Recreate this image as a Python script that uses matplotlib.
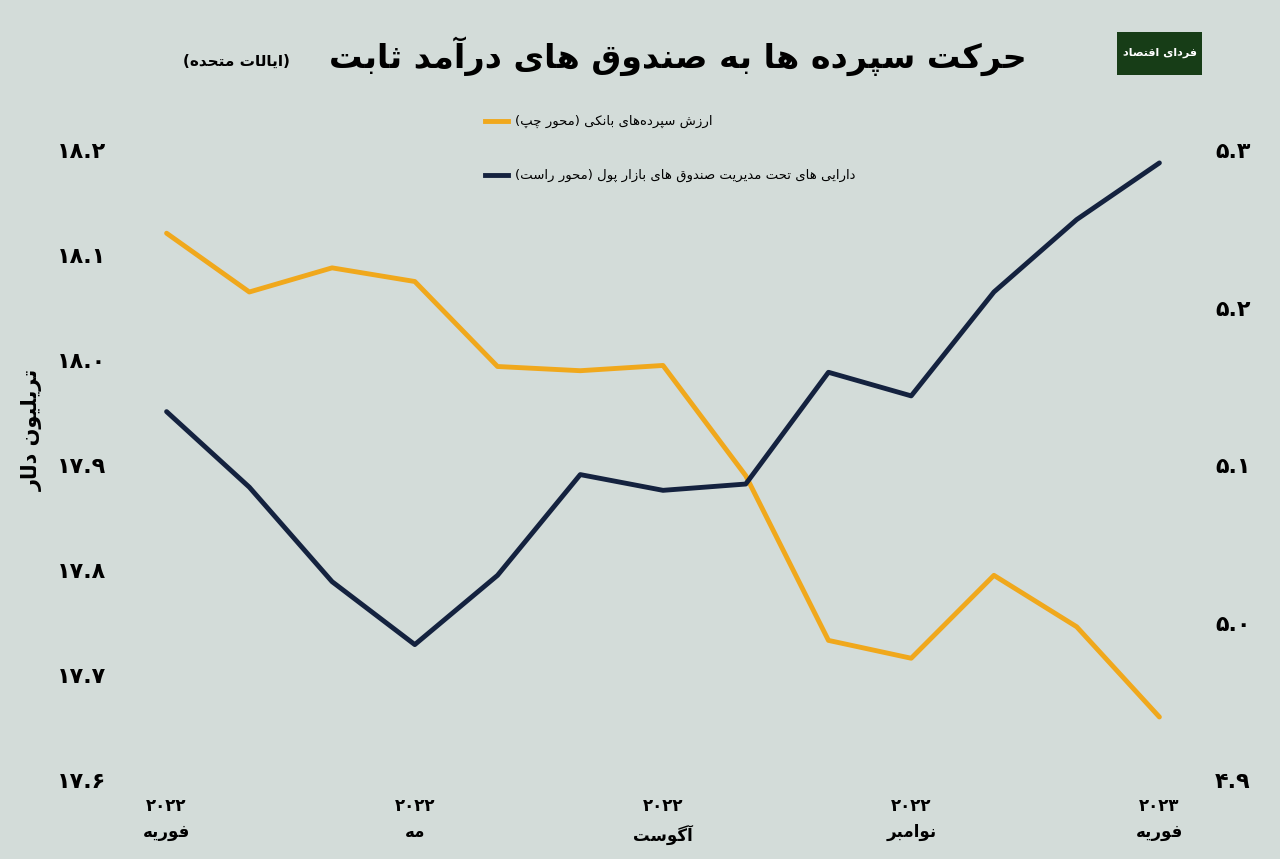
import matplotlib.pyplot as plt
from matplotlib.lines import Line2D
from matplotlib.patches import Rectangle

plt.rcParams['font.family'] = ['DejaVu Sans']

# --- data ---
months = ['فوریه', 'مارس', 'آوریل', 'مه', 'ژوئن', 'ژوئیه', 'آگوست',
          'سپتامبر', 'اکتبر', 'نوامبر', 'دسامبر', 'ژانویه', 'فوریه']
years = ['۲۰۲۲'] * 12 + ['۲۰۲۳']
deposits = [18.121, 18.065, 18.088, 18.075, 17.994, 17.990, 17.995,
            17.890, 17.733, 17.716, 17.795, 17.746, 17.660]
mmf_assets = [5.134, 5.086, 5.026, 4.986, 5.030, 5.094, 5.084,
              5.088, 5.159, 5.144, 5.210, 5.256, 5.292]
left_ticks = [17.6, 17.7, 17.8, 17.9, 18.0, 18.1, 18.2]
right_ticks = [4.9, 5.0, 5.1, 5.2, 5.3]
shown_months = [0, 3, 6, 9, 12]

title = 'حرکت سپرده ها به صندوق های درآمد ثابت'
subtitle = '(ایالات متحده)'
label_dep = 'ارزش سپرده‌های بانکی (محور چپ)'
label_mmf = 'دارایی های تحت مدیریت صندوق های بازار پول (محور راست)'
ylabel = 'تریلیون دلار'
logo = 'فردای اقتصاد'

# --- tiny Arabic/Persian shaper (isolated, final, initial, medial) ---
FORMS = {
    'ا': (0xFE8D, 0xFE8E, None, None), 'آ': (0xFE81, 0xFE82, None, None),
    'ب': (0xFE8F, 0xFE90, 0xFE91, 0xFE92), 'پ': (0xFB56, 0xFB57, 0xFB58, 0xFB59),
    'ت': (0xFE95, 0xFE96, 0xFE97, 0xFE98), 'ث': (0xFE99, 0xFE9A, 0xFE9B, 0xFE9C),
    'ج': (0xFE9D, 0xFE9E, 0xFE9F, 0xFEA0), 'چ': (0xFB7A, 0xFB7B, 0xFB7C, 0xFB7D),
    'ح': (0xFEA1, 0xFEA2, 0xFEA3, 0xFEA4), 'خ': (0xFEA5, 0xFEA6, 0xFEA7, 0xFEA8),
    'د': (0xFEA9, 0xFEAA, None, None), 'ذ': (0xFEAB, 0xFEAC, None, None),
    'ر': (0xFEAD, 0xFEAE, None, None), 'ز': (0xFEAF, 0xFEB0, None, None),
    'ژ': (0xFB8A, 0xFB8B, None, None),
    'س': (0xFEB1, 0xFEB2, 0xFEB3, 0xFEB4), 'ش': (0xFEB5, 0xFEB6, 0xFEB7, 0xFEB8),
    'ص': (0xFEB9, 0xFEBA, 0xFEBB, 0xFEBC), 'ض': (0xFEBD, 0xFEBE, 0xFEBF, 0xFEC0),
    'ط': (0xFEC1, 0xFEC2, 0xFEC3, 0xFEC4), 'ظ': (0xFEC5, 0xFEC6, 0xFEC7, 0xFEC8),
    'ع': (0xFEC9, 0xFECA, 0xFECB, 0xFECC), 'غ': (0xFECD, 0xFECE, 0xFECF, 0xFED0),
    'ف': (0xFED1, 0xFED2, 0xFED3, 0xFED4), 'ق': (0xFED5, 0xFED6, 0xFED7, 0xFED8),
    'ک': (0xFB8E, 0xFB8F, 0xFB90, 0xFB91), 'گ': (0xFB92, 0xFB93, 0xFB94, 0xFB95),
    'ل': (0xFEDD, 0xFEDE, 0xFEDF, 0xFEE0), 'م': (0xFEE1, 0xFEE2, 0xFEE3, 0xFEE4),
    'ن': (0xFEE5, 0xFEE6, 0xFEE7, 0xFEE8), 'و': (0xFEED, 0xFEEE, None, None),
    'ه': (0xFEE9, 0xFEEA, 0xFEEB, 0xFEEC), 'ی': (0xFBFC, 0xFBFD, 0xFBFE, 0xFBFF),
}


def shape(s):
    out = []
    for i, c in enumerate(s):
        if c not in FORMS:
            out.append('' if c == '\u200c' else c)
            continue
        prev = s[i - 1] if i > 0 else ''
        nxt = s[i + 1] if i + 1 < len(s) else ''
        join_prev = prev in FORMS and FORMS[prev][2] is not None
        join_next = nxt in FORMS and FORMS[c][2] is not None
        iso, fin, ini, med = FORMS[c]
        if join_prev and join_next:
            code = med
        elif join_prev:
            code = fin
        elif join_next:
            code = ini
        else:
            code = iso
        out.append(chr(code))
    # visual order: reverse, keep digit runs LTR, mirror parentheses
    runs, buf = [], ''
    for ch in ''.join(out):
        if ch.isdigit() or (buf and ch == '.'):
            buf += ch
        else:
            if buf:
                runs.append(buf)
                buf = ''
            runs.append({'(': ')', ')': '('}.get(ch, ch))
    if buf:
        runs.append(buf)
    return ''.join(reversed(runs))


def fa_num(v):
    return shape(f'{v:.1f}'.translate(str.maketrans('0123456789', '۰۱۲۳۴۵۶۷۸۹')))


bg = '#d3dcd9'
orange = '#f0a81c'
navy = '#14223f'

fig = plt.figure(figsize=(12.8, 8.59), dpi=100, facecolor=bg)
ax = fig.add_axes([0.12, 0.092, 0.80, 0.733])
ax.set_facecolor(bg)
ax2 = ax.twinx()

x = list(range(len(months)))
ax.plot(x, deposits, color=orange, lw=3.5, solid_capstyle='round', zorder=3)
ax2.plot(x, mmf_assets, color=navy, lw=3.5, solid_capstyle='round', zorder=3)

ax.set_xlim(-0.157, 12.22)
ax.set_ylim(17.6, 18.2)
ax2.set_ylim(4.9, 5.3)

ax.set_yticks(left_ticks)
ax.set_yticklabels([fa_num(v) for v in left_ticks], fontsize=16, fontweight='bold')
ax2.set_yticks(right_ticks)
ax2.set_yticklabels([fa_num(v) for v in right_ticks], fontsize=16, fontweight='bold')
ax.set_xticks(shown_months)
ax.set_xticklabels([shape(years[i]) + '\n' + shape(months[i]) for i in shown_months],
                   fontsize=12, fontweight='bold', linespacing=1.6)
ax.tick_params(axis='y', length=0, pad=34)
ax2.tick_params(axis='y', length=0, pad=27)
ax.tick_params(axis='x', length=0, pad=12)
for a in (ax, ax2):
    for sp in a.spines.values():
        sp.set_visible(False)

fig.text(0.025, 0.50, shape(ylabel), rotation=90, fontsize=15, fontweight='bold',
         ha='center', va='center')

fig.text(0.802, 0.935, shape(title), fontsize=24, fontweight='bold', ha='right', va='center')
fig.text(0.143, 0.928, shape(subtitle), fontsize=11, fontweight='bold', ha='left', va='center')

fig.add_artist(Line2D([0.379, 0.397], [0.859, 0.859], color=orange, lw=3.5))
fig.text(0.402, 0.859, shape(label_dep), fontsize=9.5, ha='left', va='center')
fig.add_artist(Line2D([0.379, 0.397], [0.796, 0.796], color=navy, lw=3.5))
fig.text(0.402, 0.796, shape(label_mmf), fontsize=9.5, ha='left', va='center')

fig.add_artist(Rectangle((0.873, 0.913), 0.066, 0.05, transform=fig.transFigure,
                         facecolor='#173d17', edgecolor='none'))
fig.text(0.906, 0.938, shape(logo), fontsize=8, fontweight='bold', color='white',
         ha='center', va='center')

fig.savefig('out.png', dpi=100, facecolor=bg)
